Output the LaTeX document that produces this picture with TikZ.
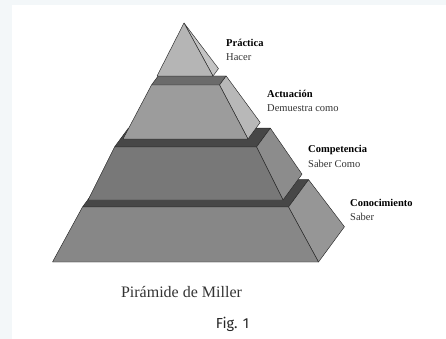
\documentclass[tikz,border=0pt]{standalone}
\usepackage{fontspec}
\setmainfont{Liberation Serif}
\newfontfamily\figsans{Fira Sans}
\usetikzlibrary{calc,positioning}
\definecolor{marginbg}{HTML}{F3F7F9}
\tikzset{
    miller diagram/.style = {x=1pt, y=-1pt},
    face/.style           = {draw=black!85, line width=0.45pt,
                             line join=round},
    level name/.style     = {anchor=base west, inner sep=0pt,
                             font=\fontsize{10.5}{12}\selectfont\bfseries},
    level verb/.style     = {anchor=base west, inner sep=0pt, text=black!80,
                             font=\fontsize{10.5}{12}\selectfont},
    caption/.style        = {anchor=base, inner sep=0pt, text=black!80,
                             font=\fontsize{16}{18}\selectfont},
    fig tag/.style        = {anchor=base, inner sep=0pt, text=black!85,
                             font=\figsans\fontsize{14.5}{16}\selectfont}
}

\begin{document}
\begin{tikzpicture}[miller diagram]

% Page with a pale margin on the top and left
\fill[marginbg] (0,0) rectangle (446,339);
\fill[white] (12,5) rectangle (446,339);
\useasboundingbox (0,0) rectangle (446,339);

% Frustum tiers, base first: tier/y top/half top/y bottom/half bottom/front/side/top
\foreach \t/\yt/\wt/\yb/\wb/\fc/\sc/\tc in {
    4/207/103/262/133/black!47/black!41/black!72,
    3/147/71/200/97.5/black!53/black!45/black!72,
    2/85/34/139/62.5/black!39/black!28/black!58} {
    \coordinate (tl\t)  at ({185.5-\wt},\yt);
    \coordinate (tr\t)  at ({185.5+\wt},\yt);
    \coordinate (bl\t)  at ({185.5-\wb},\yb);
    \coordinate (br\t)  at ({185.5+\wb},\yb);
    \coordinate (tlb\t) at ($(tl\t)+({0.195*\wt},{-0.265*\wt})$);
    \coordinate (trb\t) at ($(tr\t)+({0.195*\wt},{-0.265*\wt})$);
    \coordinate (brb\t) at ($(br\t)+({0.195*\wb},{-0.265*\wb})$);
    \filldraw[face, fill=\tc] (tl\t) -- (tr\t) -- (trb\t) -- (tlb\t) -- cycle;
    \filldraw[face, fill=\sc] (tr\t) -- (trb\t) -- (brb\t) -- (br\t) -- cycle;
    \filldraw[face, fill=\fc] (tl\t) -- (tr\t) -- (br\t) -- (bl\t) -- cycle;
}

% Apex tier
\coordinate (apex) at (184,23);
\coordinate (bl1)  at (157,76);
\coordinate (br1)  at (213,76);
\coordinate (brb1) at ($(br1)+(5.5,-7.4)$);
\filldraw[face, fill=black!23] (apex) -- (brb1) -- (br1) -- cycle;
\filldraw[face, fill=black!29] (apex) -- (br1) -- (bl1) -- cycle;

% Level labels
\foreach \n/\name/\verb/\x/\y in {
    1/Práctica/Hacer/226/46.5,
    2/Actuación/Demuestra como/267/98,
    3/Competencia/Saber Como/308/153,
    4/Conocimiento/Saber/350/206.5} {
    \node[level name] (name\n) at (\x,\y) {\name};
    \node[level verb] (verb\n) at ($(name\n.base west)+(0,14)$) {\verb};
}

% Captions
\node[caption] (title) at (181.5,297) {Pirámide de Miller};
\node[fig tag] (fig) at (232.5,328) {Fig. 1};

\end{tikzpicture}
\end{document}
